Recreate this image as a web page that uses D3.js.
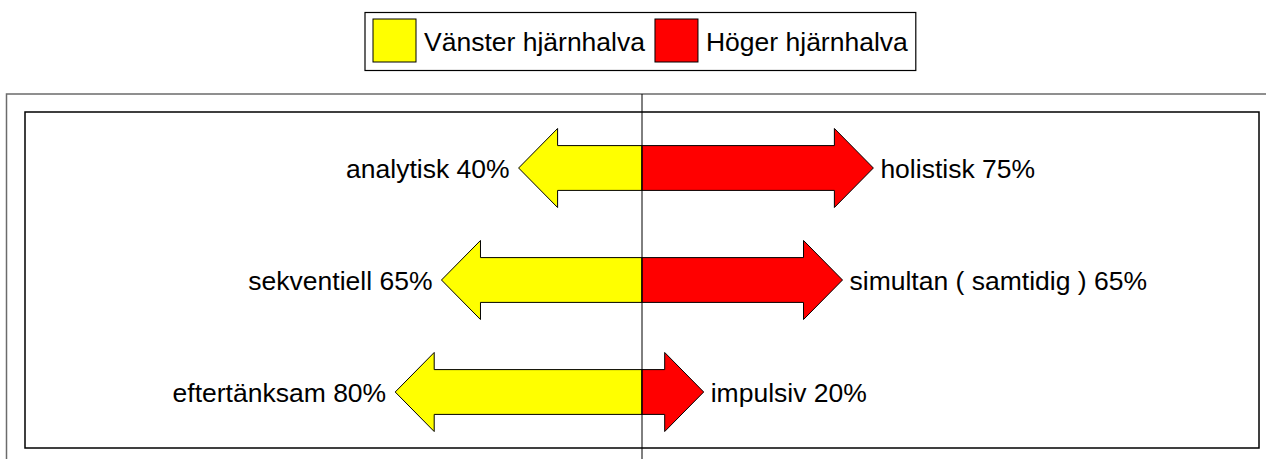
<!DOCTYPE html>
<html>
<head>
<meta charset="utf-8">
<script src="https://cdn.jsdelivr.net/npm/d3@7"></script>
<style>
  body { margin: 0; background: #fff; }
  text { font-family: "Liberation Sans", Arial, sans-serif; fill: #000; }
</style>
</head>
<body>
<svg id="chart" width="1266" height="459"></svg>
<script>
const leftCategories = ['analytisk', 'sekventiell', 'eftertänksam'];
const leftValues = [40, 65, 80];
const rightCategories = ['holistisk', 'simultan ( samtidig )', 'impulsiv'];
const rightValues = [75, 65, 20];
const seriesNames = ['Vänster hjärnhalva', 'Höger hjärnhalva'];
const seriesColors = ['#ffff00', '#ff0000'];

const svg = d3.select('#chart');
const fontSize = '26.5px';

const rows = leftCategories.map((c, i) => ({
    left: c, leftValue: leftValues[i],
    right: rightCategories[i], rightValue: rightValues[i]
}));

// plot box
const plot = { left: 25, right: 1259, top: 112, bottom: 448 };

const xScale = d3.scaleLinear()
    .domain([-200, 200])
    .range([plot.left, plot.right]);

const yScale = d3.scaleBand()
    .domain(d3.range(rows.length))
    .range([plot.top, plot.bottom]);

const cx = xScale(0);
const band = yScale.bandwidth();
const shaftH = band * 0.2;
const headH = band * 0.353;
const headLen = 39;

// outer frame (runs off the page on right and bottom)
svg.append('rect')
    .attr('x', 6.5).attr('y', 94)
    .attr('width', 1300).attr('height', 400)
    .attr('fill', 'none')
    .attr('stroke', '#6b6b6b')
    .attr('stroke-width', 1.5);

svg.append('rect')
    .attr('x', plot.left).attr('y', plot.top)
    .attr('width', plot.right - plot.left)
    .attr('height', plot.bottom - plot.top)
    .attr('fill', 'none')
    .attr('stroke', '#000')
    .attr('stroke-width', 1.5);

// half arrow from center to value; dir -1 = left, +1 = right
const halfArrow = (value, dir, yc) => {
    const tip = dir < 0 ? xScale(-value) : xScale(value);
    const base = tip - dir * headLen;
    return [
        [cx, yc - shaftH], [base, yc - shaftH], [base, yc - headH],
        [tip, yc], [base, yc + headH], [base, yc + shaftH], [cx, yc + shaftH]
    ];
};

const g = svg.append('g');

const row = g.selectAll('g.row').data(rows)
    .enter().append('g')
    .attr('class', 'row');

row.append('polygon')
    .attr('points', (d, i) => halfArrow(d.leftValue, -1, yScale(i) + band / 2).join(' '))
    .attr('fill', seriesColors[0])
    .attr('stroke', '#000')
    .attr('stroke-width', 1);

row.append('polygon')
    .attr('points', (d, i) => halfArrow(d.rightValue, 1, yScale(i) + band / 2).join(' '))
    .attr('fill', seriesColors[1])
    .attr('stroke', '#000')
    .attr('stroke-width', 1);

row.append('text')
    .attr('x', d => xScale(-d.leftValue) - 9)
    .attr('y', (d, i) => yScale(i) + band / 2)
    .attr('dy', '0.37em')
    .attr('text-anchor', 'end')
    .style('font-size', fontSize)
    .text(d => `${d.left} ${d.leftValue}%`);

row.append('text')
    .attr('x', d => xScale(d.rightValue) + 7)
    .attr('y', (d, i) => yScale(i) + band / 2)
    .attr('dy', '0.37em')
    .style('font-size', fontSize)
    .text(d => `${d.right} ${d.rightValue}%`);

// center line
svg.append('line')
    .attr('x1', cx).attr('x2', cx)
    .attr('y1', 94).attr('y2', 459)
    .attr('stroke', '#000')
    .attr('stroke-width', 1);

// legend
const legend = svg.append('g');
const legendBox = legend.append('rect')
    .attr('fill', '#fff')
    .attr('stroke', '#000')
    .attr('stroke-width', 1.2);

let lx = 373;
seriesNames.forEach((name, i) => {
    const item = legend.append('g');
    item.append('rect')
        .attr('x', lx).attr('y', 19)
        .attr('width', 43).attr('height', 43)
        .attr('fill', seriesColors[i])
        .attr('stroke', '#000')
        .attr('stroke-width', 1);
    const t = item.append('text')
        .attr('x', lx + 51).attr('y', 41)
        .attr('dy', '0.36em')
        .style('font-size', fontSize)
        .text(name);
    lx += 51 + t.node().getComputedTextLength() + 10;
});

legendBox
    .attr('x', 365).attr('y', 12.5)
    .attr('width', lx - 365 - 2)
    .attr('height', 58);
</script>
</body>
</html>
